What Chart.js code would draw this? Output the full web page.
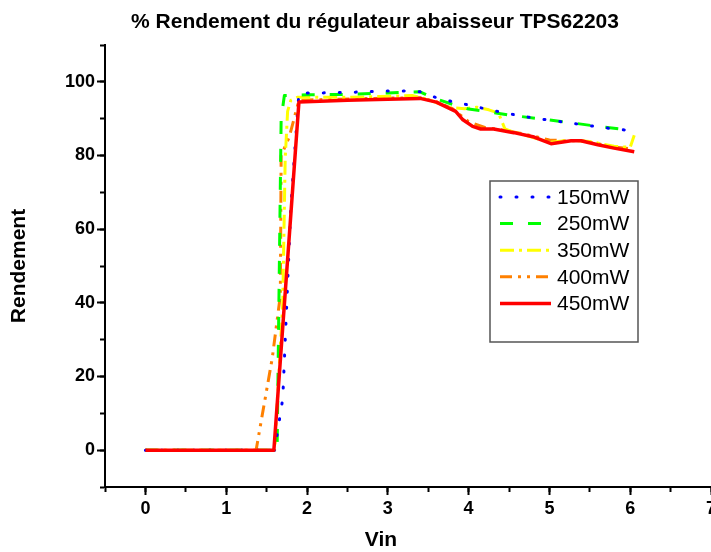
<!DOCTYPE html>
<html><head><meta charset="utf-8">
<script src="https://cdn.jsdelivr.net/npm/chart.js@4/dist/chart.umd.min.js"></script>
<style>html,body{margin:0;padding:0;background:#fff}#wrap{width:711px;height:552px}</style>
</head><body><div id="wrap"><canvas id="c" width="711" height="552"></canvas></div>
<script>
const chartTitle = '% Rendement du régulateur abaisseur TPS62203';
const xTitle = 'Vin';
const yTitle = 'Rendement';
const seriesNames = ['150mW', '250mW', '350mW', '400mW', '450mW'];

const vin150 = [0, 1.6, 1.7, 1.8, 1.9, 2.2, 2.6, 3.0, 3.2, 3.4, 3.6, 3.8, 4.0, 4.2, 4.4, 4.6, 4.8, 5.0, 5.2, 5.4, 5.6, 5.8, 6.05];
const eff150 = [0, 0, 14, 66, 97, 97, 97.2, 97.5, 97.5, 97.3, 95.7, 94.6, 93.7, 92.7, 91.8, 90.9, 90.2, 89.6, 89.0, 88.4, 87.8, 87.2, 86.7];

const vin250 = [0, 1.63, 1.68, 1.72, 2.0, 2.5, 3.0, 3.4, 3.55, 3.8, 4.0, 4.2, 4.5, 4.9, 5.3, 5.6, 6.02];
const eff250 = [0, 0, 90, 96.3, 96.5, 96.6, 97.0, 97.3, 95.7, 93.9, 92.6, 92.0, 91.0, 89.9, 88.8, 87.9, 86.8];

const vin350 = [0, 1.6, 1.7, 1.73, 1.76, 1.8, 1.88, 2.5, 2.9, 3.3, 3.5, 3.75, 3.95, 4.1, 4.25, 4.37, 4.45, 4.55, 4.75, 5.0, 5.25, 5.5, 5.8, 6.0, 6.05];
const eff350 = [0, 0, 40, 79, 92, 95, 95.8, 95.8, 96.0, 96.3, 95.2, 93.1, 92.7, 93.1, 92.4, 91.5, 87.2, 86.4, 85.2, 83.6, 84.1, 83.8, 82.5, 82.2, 85.5];

const vin400 = [0, 1.37, 1.57, 1.67, 1.68, 1.78, 1.9, 2.2, 2.6, 3.1, 3.4, 3.6, 3.8, 4.0, 4.2, 4.4, 4.6, 4.8, 5.0, 5.2, 5.4, 5.6, 5.8, 6.0];
const eff400 = [0, 0, 25, 42, 80, 85, 95, 95.2, 95.4, 95.6, 95.7, 94.6, 92.7, 89.2, 87.6, 87.0, 86.2, 85.3, 84.2, 84.0, 84.0, 83.2, 82.3, 81.8];

const vin450 = [0, 1.59, 1.9, 2.5, 3.0, 3.4, 3.6, 3.84, 3.93, 4.05, 4.15, 4.31, 4.56, 4.81, 5.02, 5.27, 5.39, 5.6, 5.8, 6.05];
const eff450 = [0, 0, 94.5, 95.0, 95.3, 95.5, 94.5, 92.0, 89.7, 87.9, 87.2, 87.2, 86.2, 85.0, 83.2, 84.0, 84.0, 82.9, 82.0, 81.0];

const xMajorTicks = [0, 1, 2, 3, 4, 5, 6, 7];
const xMinorTicks = [-0.5, 0, 0.5, 1, 1.5, 2, 2.5, 3, 3.5, 4, 4.5, 5, 5.5, 6, 6.5, 7];
const yMajorTicks = [0, 20, 40, 60, 80, 100];
const yMinorTicks = [-10, 0, 10, 20, 30, 40, 50, 60, 70, 80, 90, 100, 110];

const FONT = "'Liberation Sans', Arial, sans-serif";
const toPts = (xs, ys) => xs.map((x, i) => ({x: x, y: ys[i]}));

const styles = [
  {color: '#0000FF', width: 3, dash: [1, 15], cap: 'round', order: 1},
  {color: '#00FF00', width: 3, dash: [13, 15], cap: 'butt', order: 2},
  {color: '#FFFF00', width: 3, dash: [14, 5, 3, 5], cap: 'butt', order: 3},
  {color: '#FF8000', width: 3, dash: [12, 6, 3, 6, 3, 6], cap: 'butt', order: 4},
  {color: '#FF0000', width: 3.5, dash: [], cap: 'butt', order: 0}
];
const allData = [[vin150, eff150], [vin250, eff250], [vin350, eff350], [vin400, eff400], [vin450, eff450]];

const datasets = allData.map((d, i) => ({
  label: seriesNames[i],
  data: toPts(d[0], d[1]),
  borderColor: styles[i].color,
  backgroundColor: styles[i].color,
  borderWidth: styles[i].width,
  borderDash: styles[i].dash,
  borderCapStyle: styles[i].cap,
  borderJoinStyle: 'round',
  pointRadius: 0,
  tension: 0,
  fill: false,
  order: styles[i].order,
  xAxisID: 'x',
  yAxisID: 'y'
}));

// Title and x-axis title drawn as canvas text (centred like the reference, not on the canvas centre)
const textLabels = {
  id: 'textLabels',
  afterDraw(chart) {
    const ctx = chart.ctx;
    ctx.save();
    ctx.fillStyle = '#000';
    ctx.textAlign = 'center';
    ctx.textBaseline = 'middle';
    ctx.font = "bold 21px " + FONT;
    ctx.fillText(chartTitle, 375, 22);
    ctx.font = "bold 21px " + FONT;
    ctx.fillText(xTitle, 381, 540);
    ctx.restore();
  }
};

const legendBox = {
  id: 'legendBox',
  afterDraw(chart) {
    const ctx = chart.ctx;
    const L = 490, T = 181, R = 638, B = 342;
    ctx.save();
    ctx.strokeStyle = '#555';
    ctx.lineWidth = 1.5;
    ctx.strokeRect(L, T, R - L, B - T);
    ctx.font = "21px " + FONT;
    ctx.textBaseline = 'middle';
    ctx.fillStyle = '#000';
    chart.data.datasets.forEach((ds, i) => {
      const y = 197 + i * 26.6;
      ctx.beginPath();
      ctx.strokeStyle = ds.borderColor;
      ctx.lineWidth = ds.borderWidth;
      ctx.setLineDash(ds.borderDash);
      ctx.lineCap = ds.borderCapStyle;
      ctx.moveTo(500, y);
      ctx.lineTo(551, y);
      ctx.stroke();
      ctx.setLineDash([]);
      ctx.fillText(ds.label, 557, y + 1);
    });
    ctx.restore();
  }
};

const tickFont = {family: FONT, size: 18, weight: 'bold'};
const titleFont = {family: FONT, size: 21, weight: 'bold'};

new Chart(document.getElementById('c'), {
  type: 'line',
  data: {datasets: datasets},
  options: {
    responsive: false,
    animation: false,
    devicePixelRatio: 1,
    layout: {padding: {top: 45, left: 0, right: 0, bottom: 0}},
    plugins: {
      legend: {display: false},
      tooltip: {enabled: false},
      title: {display: false}
    },
    scales: {
      xMinor: {
        type: 'linear', position: 'bottom', min: -0.5, max: 7, weight: 0,
        afterBuildTicks: s => { s.ticks = xMinorTicks.map(v => ({value: v})); },
        afterFit: s => { s.height = 0; s.paddingLeft = 0; s.paddingRight = 0; },
        grid: {drawOnChartArea: false, color: '#000', tickLength: 5, tickWidth: 2},
        border: {display: true, color: '#000', width: 2},
        ticks: {display: false}
      },
      x: {
        type: 'linear', position: 'bottom', min: -0.5, max: 7, weight: 1,
        afterBuildTicks: s => { s.ticks = xMajorTicks.map(v => ({value: v})); },
        afterFit: s => { s.height = 65; s.paddingLeft = 0; s.paddingRight = 0; },
        grid: {drawOnChartArea: false, color: '#000', tickLength: 8, tickWidth: 2},
        border: {display: true, color: '#000', width: 2},
        ticks: {color: '#000', font: tickFont, padding: 3, maxRotation: 0, autoSkip: false},
        title: {display: false}
      },
      yMinor: {
        type: 'linear', position: 'left', min: -10, max: 110, weight: 0,
        afterBuildTicks: s => { s.ticks = yMinorTicks.map(v => ({value: v})); },
        afterFit: s => { s.width = 0; s.paddingTop = 0; s.paddingBottom = 0; },
        grid: {drawOnChartArea: false, color: '#000', tickLength: 5, tickWidth: 2},
        border: {display: true, color: '#000', width: 2},
        ticks: {display: false}
      },
      y: {
        type: 'linear', position: 'left', min: -10, max: 110, weight: 1,
        afterBuildTicks: s => { s.ticks = yMajorTicks.map(v => ({value: v})); },
        afterFit: s => { s.width = 105; s.paddingTop = 0; s.paddingBottom = 0; },
        grid: {drawOnChartArea: false, color: '#000', tickLength: 8, tickWidth: 2},
        border: {display: true, color: '#000', width: 2},
        ticks: {color: '#000', font: tickFont, padding: 2, autoSkip: false},
        title: {display: true, text: yTitle, color: '#000', font: titleFont, padding: {top: 7, bottom: 0}}
      }
    }
  },
  plugins: [legendBox, textLabels]
});
</script>
</body></html>
